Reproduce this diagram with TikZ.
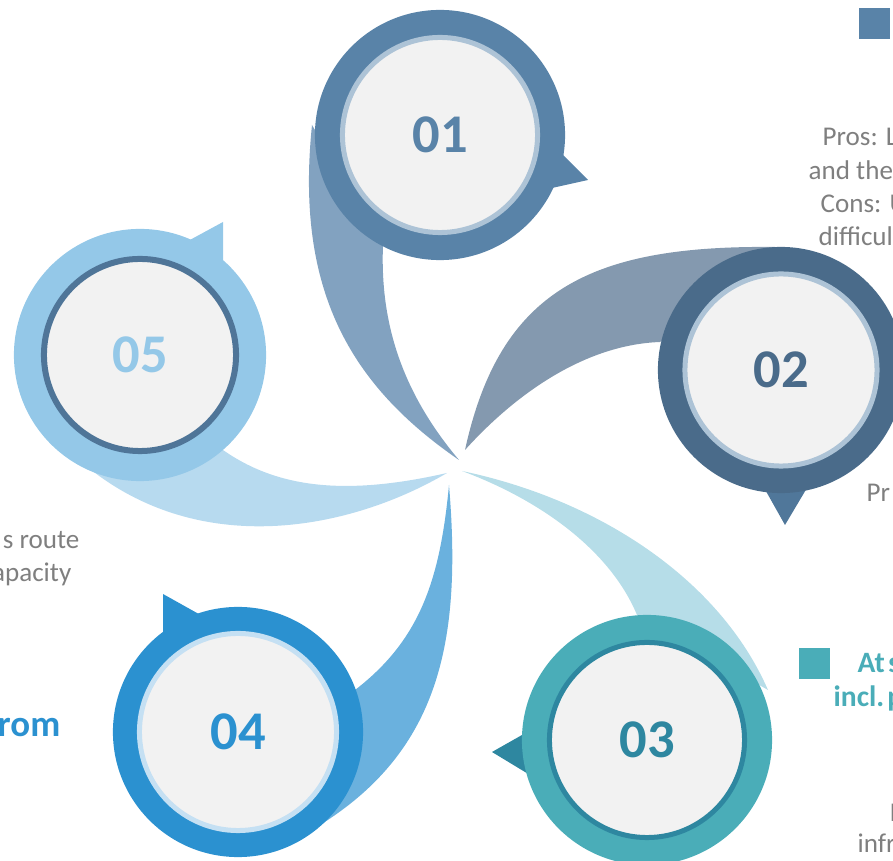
\documentclass[tikz,border=0pt]{standalone}
\usepackage{fontspec}
\setmainfont{Carlito}
\definecolor{ringA}{HTML}{5983A8}
\definecolor{tailA}{HTML}{82A2C0}
\definecolor{rimA}{HTML}{ADC3D6}
\definecolor{ringB}{HTML}{4A6B8A}
\definecolor{tailB}{HTML}{8499AF}
\definecolor{pinB}{HTML}{50779A}
\definecolor{ringC}{HTML}{4AADB8}
\definecolor{tailC}{HTML}{B6DDE8}
\definecolor{rimC}{HTML}{2E87A0}
\definecolor{ringD}{HTML}{2B91D0}
\definecolor{tailD}{HTML}{6AB1DE}
\definecolor{rimD}{HTML}{C5E0F3}
\definecolor{ringE}{HTML}{94C8E8}
\definecolor{tailE}{HTML}{B7DAEF}
\definecolor{rimE}{HTML}{4F7598}
\definecolor{paper}{HTML}{F2F2F2}
\definecolor{notegray}{HTML}{7F7F7F}
\begin{document}
\begin{tikzpicture}[x=0.01cm,y=-0.01cm,
ring/.style={circle,inner sep=0pt,minimum size=2.5cm},
face/.style={circle,inner sep=0pt,minimum size=1.95cm,fill=paper,line width=0.05cm},
num/.style={font=\fontsize{15.5}{18}\selectfont\bfseries},
note/.style={font=\fontsize{7.7}{9}\selectfont,text=notegray,inner sep=0pt},
head/.style={font=\fontsize{8.4}{10}\selectfont\bfseries,inner sep=0pt}]
\useasboundingbox (0,0) rectangle (893,861);
\clip (0,0) rectangle (893,861);

% tails, all meeting near the middle
\fill[tailA] (459,460) .. controls (350,385) and (295,290) .. (312,125) -- (383,245) .. controls (380,320) and (400,390) .. (459,460);
\fill[tailB] (465,450) .. controls (500,290) and (590,245) .. (775,247) -- (660,342) .. controls (580,345) and (510,400) .. (465,450);
\fill[tailC] (462,471) .. controls (600,500) and (720,580) .. (768,690) -- (637,615) .. controls (610,550) and (540,500) .. (462,471);
\fill[tailD] (449,485) .. controls (462,640) and (440,750) .. (320,825) -- (355,690) .. controls (420,640) and (440,580) .. (449,485);
\fill[tailE] (447,473) .. controls (350,530) and (200,560) .. (85,465) -- (223,450) .. controls (280,490) and (350,495) .. (447,473);

% 01
\fill[ringA] (588,180) -- (538,130) -- (516,196) -- cycle;
\draw (440,135) node[ring,fill=ringA] (r1) {};
\draw (r1) node[face,draw=rimA,text=ringA,num] (f1) {01};

% 02
\fill[pinB] (785,525) -- (749,461) -- (823,461) -- cycle;
\draw (781,370) node[ring,fill=ringB,minimum size=2.46cm] (r2) {};
\draw (r2) node[face,draw=rimA,text=ringB,num,minimum size=1.92cm] (f2) {02};

% 03
\fill[rimC] (492,752) -- (552,718) -- (558,792) -- cycle;
\draw (647,740) node[ring,fill=ringC] (r3) {};
\draw (r3) node[face,draw=rimC,text=rimC,num] (f3) {03};

% 04
\fill[ringD] (163,594) -- (163,660) -- (231,632) -- cycle;
\draw (238,732) node[ring,fill=ringD] (r4) {};
\draw (r4) node[face,draw=rimD,text=ringD,num,minimum size=1.97cm] (f4) {04};

% 05
\fill[ringE] (223,222) -- (223,290) -- (153,260) -- cycle;
\draw (140,355) node[ring,fill=ringE,minimum size=2.52cm] (r5) {};
\draw (r5) node[face,draw=rimE,text=ringE,num,minimum size=1.92cm,line width=0.06cm] (f5) {05};

% side texts
\fill[ringA] (859,8) rectangle (890,39);
\draw (822,146) node[note,anchor=base west] (t1a) {Pros: L};
\draw (808,180) node[note,anchor=base west] (t1b) {and the};
\draw (820,213) node[note,anchor=base west] (t1c) {Cons: U};
\draw (818,246) node[note,anchor=base west] (t1d) {difficul};
\draw (866,502) node[note,anchor=base west] (t2a) {Pr};

\fill[ringC] (799,648) rectangle (830,679);
\draw (857,673) node[head,text=ringC,anchor=base west] (h3a) {At\hspace{0.12em}s};
\draw (833,707) node[head,text=ringC,anchor=base west] (h3b) {incl.\hspace{0.1em}p};
\draw (889,822) node[note,anchor=base west] (t3a) {I};
\draw (857,853) node[note,anchor=base west] (t3b) {infr};

\draw (61,737) node[head,text=ringD,anchor=base east,font=\fontsize{10.5}{12}\selectfont\bfseries] (h4a) {rom};

\draw (80,549) node[note,anchor=base east] (t5a) {s route};
\draw (72,582) node[note,anchor=base east] (t5b) {apacity};
\end{tikzpicture}
\end{document}
